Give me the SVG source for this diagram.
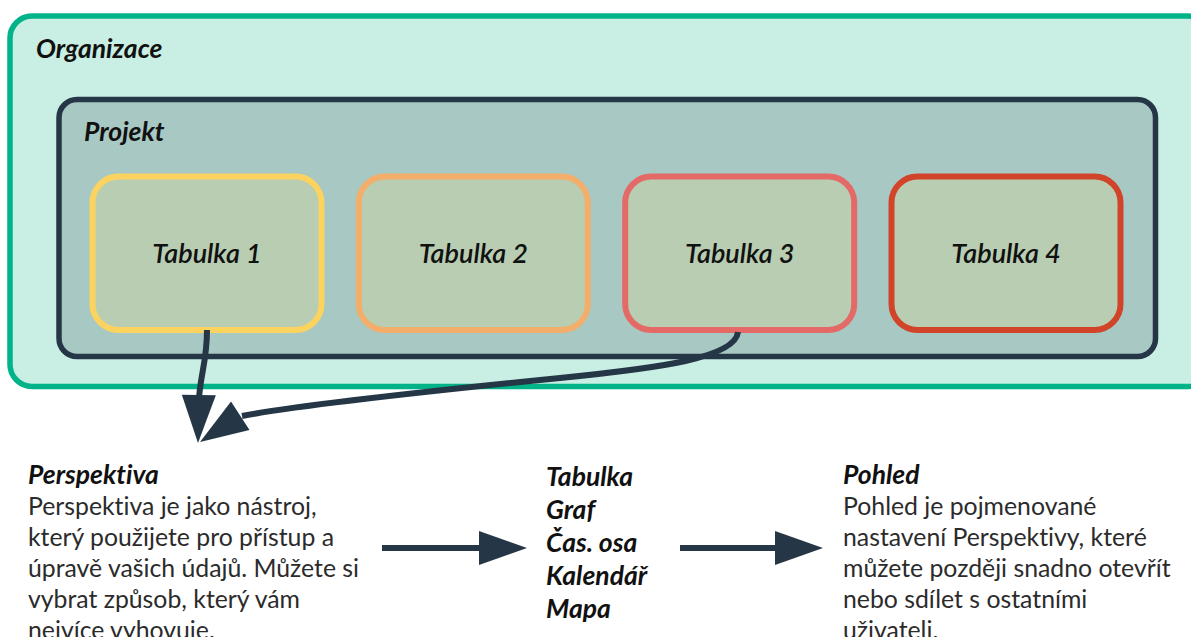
<svg xmlns="http://www.w3.org/2000/svg" width="1191" height="637" viewBox="0 0 1191 637">
<style>
text{font-variant-ligatures:none}
.lbl{font-family:Lato,"Liberation Sans",sans-serif;font-style:italic;font-weight:bold;fill:#111;font-size:26.5px}
.tbl{font-family:Lato,"Liberation Sans",sans-serif;font-style:italic;font-weight:600;fill:#111;font-size:27px;text-anchor:middle}
.body{font-family:Lato,"Liberation Sans",sans-serif;fill:#2b2b2b;font-size:24.8px}
.box{fill:#b8cdb1;stroke-width:6}
.conn{fill:none;stroke:#253746;stroke-width:6}
.head{fill:#253746}
</style>
<defs>
<path id="ah" d="M0,0 L-48,-17 L-48,17 Z"/>
</defs>
<rect width="1191" height="637" fill="#ffffff"/>
<g id="organizace">
<rect x="10" y="16" width="1200" height="370.5" rx="22" fill="#c9eee3" stroke="#00b388" stroke-width="5.5"/>
<text class="lbl" x="36" y="58">Organizace</text>
</g>
<g id="projekt">
<rect x="59" y="99.5" width="1096.5" height="257" rx="18" fill="#a8c8c3" stroke="#253746" stroke-width="5.5"/>
<text class="lbl" x="84" y="141">Projekt</text>
</g>
<g id="tabulka1">
<rect class="box" x="92.5" y="176.5" width="229" height="153.5" rx="26" stroke="#fdd35f"/>
<text class="tbl" x="207" y="263">Tabulka 1</text>
</g>
<g id="tabulka2">
<rect class="box" x="358.8" y="176.5" width="229" height="153.5" rx="26" stroke="#f2ae6a"/>
<text class="tbl" x="473.3" y="263">Tabulka 2</text>
</g>
<g id="tabulka3">
<rect class="box" x="625.2" y="176.5" width="229" height="153.5" rx="26" stroke="#e46a68"/>
<text class="tbl" x="739.7" y="263">Tabulka 3</text>
</g>
<g id="tabulka4">
<rect class="box" x="891.5" y="176.5" width="229" height="153.5" rx="26" stroke="#d2442a"/>
<text class="tbl" x="1006" y="263">Tabulka 4</text>
</g>
<g id="perspektiva">
<text class="lbl" x="28" y="484">Perspektiva</text>
<text class="body" x="28" y="515">Perspektiva je jako nástroj,</text>
<text class="body" x="28" y="546">který použijete pro přístup a</text>
<text class="body" x="28" y="577">úpravě vašich údajů. Můžete si</text>
<text class="body" x="28" y="608">vybrat způsob, který vám</text>
<text class="body" x="28" y="639">nejvíce vyhovuje.</text>
</g>
<g id="typy">
<text class="lbl" x="546" y="486">Tabulka</text>
<text class="lbl" x="546" y="519">Graf</text>
<text class="lbl" x="546" y="552">Čas. osa</text>
<text class="lbl" x="546" y="585">Kalendář</text>
<text class="lbl" x="546" y="618">Mapa</text>
</g>
<g id="pohled">
<text class="lbl" x="843" y="484">Pohled</text>
<text class="body" x="843" y="515">Pohled je pojmenované</text>
<text class="body" x="843" y="546">nastavení Perspektivy, které</text>
<text class="body" x="843" y="577">můžete později snadno otevřít</text>
<text class="body" x="843" y="608">nebo sdílet s ostatními</text>
<text class="body" x="843" y="639">uživateli.</text>
</g>
<g id="connectors">
<path class="conn" d="M207,330 C207,360 201,372 199,398"/>
<use href="#ah" class="head" transform="translate(198,443) rotate(91)"/>
<path class="conn" d="M738,332 C735,358 660,368 560,378 C440,390 300,405 242,416"/>
<use href="#ah" class="head" transform="translate(200,442) rotate(147)"/>
<path class="conn" d="M382,548 L482,548" stroke-width="7"/>
<use href="#ah" class="head" transform="translate(527,548)"/>
<path class="conn" d="M680,548 L778,548" stroke-width="7"/>
<use href="#ah" class="head" transform="translate(823,548)"/>
</g>
</svg>
